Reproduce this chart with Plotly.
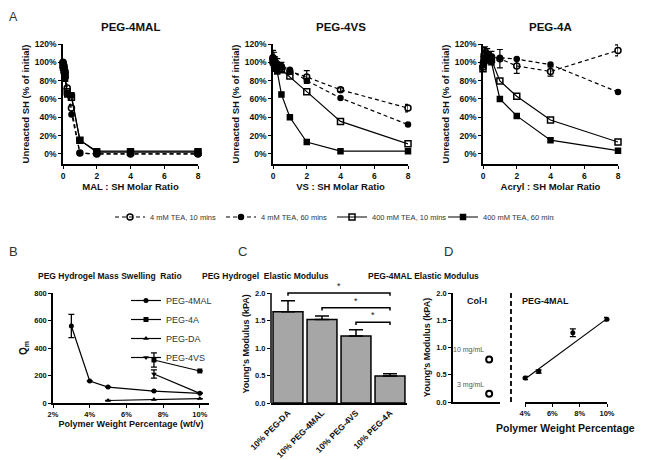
import plotly.graph_objects as go

# the page has an 8px body margin, so the figure is drawn 8px in from the window corner
W, H = 637, 452
OFF = 8

# ---------- panel A : unreacted thiol vs molar ratio ----------
ratio = [0, 0.0625, 0.125, 0.25, 0.5, 1, 2, 4, 8]
a_names = ["4 mM TEA, 10 mins", "4 mM TEA, 60 mins", "400 mM TEA, 10 mins", "400 mM TEA, 60 mins"]
a_ticks = [0, 20, 40, 60, 80, 100, 120]
a_ticktext = ["0%", "20%", "40%", "60%", "80%", "100%", "120%"]

mal_4mm_10 = [100, 96, 90, 72, 50, 1, 0, 0, 0]
mal_4mm_60 = [100, 93, 85, 66, 43, 1, 0, 0, 0]
mal_400_10 = [97, 92, 86, 68, 62, 15, 2, 2, 2]
mal_400_60 = [94, 90, 82, 65, 64, 15, 3, 3, 3]

vs_4mm_10 = [105, 103, 100, 98, 95, 90, 84, 70, 50]
vs_4mm_10_err = [8, 8, 6, 6, 5, 3, 7, 2, 4]
vs_4mm_60 = [104, 100, 99, 97, 96, 92, 80, 61, 32]
vs_400_10 = [102, 100, 98, 96, 92, 85, 68, 35.5, 11]
vs_400_60 = [100, 97, 93, 90, 65, 40, 13, 3, 3]

acr_4mm_10 = [95, 108, 110, 107, 106, 104, 96, 90, 113]
acr_4mm_10_err = [5, 8, 7, 8, 6, 10, 8, 5, 6]
acr_4mm_60 = [100, 102, 105, 106, 105, 105, 103.5, 97.5, 67.6]
acr_400_10 = [93, 103, 110, 108, 103, 79.6, 63, 37, 13]
acr_400_60 = [97, 100, 104, 105, 100, 60, 41.5, 15, 3.6]

a_titles = ["PEG-4MAL", "PEG-4VS", "PEG-4A"]
a_xtitles = ["MAL : SH Molar Ratio", "VS : SH Molar Ratio", "Acryl : SH Molar Ratio"]

# ---------- panel B : mass swelling ratio ----------
b_names = ["PEG-4MAL", "PEG-4A", "PEG-DA", "PEG-4VS"]
b_x = [[3, 4, 5, 7.5, 10], [7.5, 10], [5, 7.5, 10], [7.5, 10]]
b_y = [[560, 160, 116, 87, 70], [313, 233], [18, 25, 32], [211, 70]]
b_err = [[85, 0, 0, 0, 0], [52, 0], [0, 0, 0], [30, 0]]

# ---------- panel C : elastic modulus bars ----------
c_cats = ["10% PEG-DA", "10% PEG-4MAL", "10% PEG-4VS", "10% PEG-4A"]
c_vals = [1.66, 1.52, 1.22, 0.49]
c_err = [0.20, 0.06, 0.11, 0.04]
sig_from = [0, 1, 2]
sig_to = [3, 3, 3]
sig_y = [2.0, 1.73, 1.47]

# ---------- panel D : PEG-4MAL modulus vs Col-I ----------
col_labels = ["10 mg/mL", "3 mg/mL"]
col_mod = [0.78, 0.15]
mal_pct = [4, 5, 7.5, 10]
mal_mod = [0.44, 0.56, 1.27, 1.52]
mal_err = [0.03, 0.03, 0.07, 0.03]
fit_pct = [4, 10]
fit_mod = [0.42, 1.53]

FONT = "Liberation Sans, Arial, sans-serif"
INK = "#111"


def px_x(p):
    return (p - OFF) / W


def px_y(p):
    return 1 - (p - OFF) / H


def axis_style(**kw):
    d = dict(showline=True, linecolor="black", linewidth=1.5, ticks="outside",
             ticklen=3, tickwidth=1.3, tickcolor="black", showgrid=False,
             zeroline=False, automargin=False,
             tickfont=dict(size=8.5, color=INK, weight="bold"))
    d.update(kw)
    return d


fig = go.Figure()

# panel A traces
a_sets = [
    [mal_4mm_10, mal_4mm_60, mal_400_10, mal_400_60],
    [vs_4mm_10, vs_4mm_60, vs_400_10, vs_400_60],
    [acr_4mm_10, acr_4mm_60, acr_400_10, acr_400_60],
]
a_errs = [None, vs_4mm_10_err, acr_4mm_10_err]
symbols = ["circle-open", "circle", "square-open", "square"]
msizes = [6, 5, 6, 5]
dashes = ["4px,3px", "4px,3px", "solid", "solid"]
for k, sets in enumerate(a_sets):
    xa = "x" if k == 0 else "x%d" % (k + 1)
    ya = "y" if k == 0 else "y%d" % (k + 1)
    for j, vals in enumerate(sets):
        err = None
        if j == 0 and a_errs[k] is not None:
            err = dict(type="data", array=a_errs[k], color="black", thickness=1.2, width=3)
        fig.add_trace(go.Scatter(
            x=ratio, y=vals, xaxis=xa, yaxis=ya, mode="lines+markers",
            name=a_names[j], showlegend=(k == 0), legend="legend",
            line=dict(color="black", width=1.2, dash=dashes[j]),
            marker=dict(symbol=symbols[j], size=msizes[j], color="black",
                        line=dict(color="black", width=1.5)),
            error_y=err, cliponaxis=False))

# panel B traces
b_symbols = ["circle", "square", "triangle-up", "triangle-down"]
for j in range(4):
    fig.add_trace(go.Scatter(
        x=b_x[j], y=b_y[j], xaxis="x4", yaxis="y4", mode="lines+markers",
        name=b_names[j], legend="legend2",
        line=dict(color="black", width=1.2),
        marker=dict(symbol=b_symbols[j], size=5, color="black"),
        error_y=dict(type="data", array=b_err[j], color="black", thickness=1.3, width=3),
        cliponaxis=False))

# panel C bars
fig.add_trace(go.Bar(
    x=c_cats, y=c_vals, xaxis="x5", yaxis="y5", showlegend=False, width=0.88,
    marker=dict(color="#a6a6a6", line=dict(color="black", width=1.5)),
    error_y=dict(type="data", symmetric=False, array=c_err, arrayminus=[0] * 4,
                 color="black", thickness=1.5, width=7)))

# panel D traces
fig.add_trace(go.Scatter(
    x=[1] * len(col_mod), y=col_mod, xaxis="x6", yaxis="y6", mode="markers",
    showlegend=False, cliponaxis=False,
    marker=dict(symbol="circle-open", size=6, color="black", line=dict(width=2, color="black"))))
fig.add_trace(go.Scatter(
    x=fit_pct, y=fit_mod, xaxis="x7", yaxis="y7", mode="lines", showlegend=False,
    line=dict(color="black", width=1.2), cliponaxis=False))
fig.add_trace(go.Scatter(
    x=mal_pct, y=mal_mod, xaxis="x7", yaxis="y7", mode="markers", showlegend=False,
    cliponaxis=False, marker=dict(symbol="circle", size=5, color="black"),
    error_y=dict(type="data", array=mal_err, color="black", thickness=1.3, width=3)))

# ---------- axes ----------
a_dom = [[63, 198], [273, 408], [483, 618]]
lay = {}
for k in range(3):
    xn = "xaxis" if k == 0 else "xaxis%d" % (k + 1)
    yn = "yaxis" if k == 0 else "yaxis%d" % (k + 1)
    xa = "x" if k == 0 else "x%d" % (k + 1)
    ya = "y" if k == 0 else "y%d" % (k + 1)
    lay[xn] = axis_style(domain=[px_x(a_dom[k][0]), px_x(a_dom[k][1])], range=[0, 8],
                         tickvals=[0, 2, 4, 6, 8], anchor=ya,
                         title=dict(text=a_xtitles[k], standoff=2,
                                    font=dict(size=9.5, color=INK, weight="bold")))
    lay[yn] = axis_style(domain=[px_y(164), px_y(44)], range=[-11, 120],
                         tickvals=a_ticks, ticktext=a_ticktext, anchor=xa,
                         title=dict(text="Unreacted SH (% of initial)", standoff=3,
                                    font=dict(size=9.5, color=INK, weight="bold")))

lay["xaxis4"] = axis_style(domain=[px_x(53), px_x(209)], range=[2, 10.5], anchor="y4",
                           tickvals=[2, 4, 6, 8, 10], ticktext=["2%", "4%", "6%", "8%", "10%"],
                           tickfont=dict(size=7.5, color=INK, weight="bold"),
                           title=dict(text="Polymer Weight Percentage (wt/v)", standoff=2,
                                      font=dict(size=9, color=INK, weight="bold")))
lay["yaxis4"] = axis_style(domain=[px_y(403), px_y(293)], range=[0, 800], anchor="x4",
                           tickvals=[0, 200, 400, 600, 800],
                           tickfont=dict(size=7.5, color=INK, weight="bold"),
                           title=dict(text="Q<sub>m</sub>", standoff=5,
                                      font=dict(size=10, color=INK, weight="bold")))

lay["xaxis5"] = axis_style(domain=[px_x(271), px_x(407)], range=[-0.5, 3.5], anchor="y5",
                           ticks="", tickangle=-45,
                           tickfont=dict(size=8.5, color=INK, weight="bold"))
lay["yaxis5"] = axis_style(domain=[px_y(403), px_y(284.75)], range=[0, 2.15], anchor="x5",
                           showline=False, tickvals=[0, 0.5, 1.0, 1.5, 2.0],
                           tickformat=".1f",
                           tickfont=dict(size=7.5, color=INK, weight="bold"),
                           title=dict(text="Young's Modulus (kPA)", standoff=3,
                                      font=dict(size=9, color=INK, weight="bold")))

lay["xaxis6"] = axis_style(domain=[px_x(453), px_x(500)], range=[0, 1.3], anchor="y6",
                           ticks="", showticklabels=False)
lay["yaxis6"] = axis_style(domain=[px_y(402), px_y(293)], range=[0, 2], anchor="x6",
                           tickvals=[0, 0.5, 1.0, 1.5, 2.0], tickformat=".1f",
                           tickfont=dict(size=7.5, color=INK, weight="bold"),
                           title=dict(text="Young's Modulus (kPA)", standoff=4,
                                      font=dict(size=9, color=INK, weight="bold")))
lay["xaxis7"] = axis_style(domain=[px_x(525), px_x(607)], range=[4, 10], anchor="y7",
                           tickvals=[4, 6, 8, 10], ticktext=["4%", "6%", "8%", "10%"],
                           tickfont=dict(size=7.5, color=INK, weight="bold"))
lay["yaxis7"] = dict(domain=[px_y(402), px_y(293)], range=[0, 2], anchor="x7",
                     visible=False, showgrid=False, zeroline=False, automargin=False)

fig.update_layout(**lay)

# ---------- shapes ----------
shapes = []
# y axis line of panel C stops at 2.0
shapes.append(dict(type="line", xref="x5 domain", yref="y5", x0=0, x1=0, y0=0, y1=2.0,
                   line=dict(color="black", width=1.5)))
# significance brackets
for f, t, yv in zip(sig_from, sig_to, sig_y):
    shapes.append(dict(type="path", xref="x5", yref="y5",
                       path="M %g,%g L %g,%g L %g,%g L %g,%g" % (f, yv - 0.05, f, yv, t, yv, t, yv - 0.05),
                       line=dict(color="black", width=1.5)))
# dashed divider in panel D
shapes.append(dict(type="line", xref="paper", yref="y6 domain", x0=px_x(511), x1=px_x(511),
                   y0=0, y1=1, line=dict(color="black", width=1.8, dash="5px,3px")))

# ---------- annotations ----------
ann = []
# "A" sits at the very top edge: anchor its box to the top of the figure so it is not cut
ann.append(dict(text="A", x=px_x(14), y=1, xref="paper", yref="paper",
                xanchor="center", yanchor="top",
                showarrow=False, font=dict(size=12.5, color="#333")))
for lab, lx, ly in [("B", 13, 252), ("C", 243, 252), ("D", 448, 252)]:
    ann.append(dict(text=lab, x=px_x(lx), y=px_y(ly), xref="paper", yref="paper",
                    xanchor="center", yanchor="middle",
                    showarrow=False, font=dict(size=13, color="#333")))
for k in range(3):
    xd = "x domain" if k == 0 else "x%d domain" % (k + 1)
    ann.append(dict(text="<b>%s</b>" % a_titles[k], xref=xd, x=0.5, yref="paper", y=px_y(27),
                    xanchor="center", yanchor="middle",
                    showarrow=False, font=dict(size=11.5, color=INK)))
for txt, cx in [("PEG Hydrogel Mass Swelling  Ratio", 110), ("PEG Hydrogel  Elastic Modulus", 265),
                ("PEG-4MAL Elastic Modulus", 423)]:
    ann.append(dict(text="<b>%s</b>" % txt, x=px_x(cx), y=px_y(276), xref="paper", yref="paper",
                    xanchor="center", yanchor="middle",
                    showarrow=False, font=dict(size=8.5, color=INK)))
for f, t, yv in zip(sig_from, sig_to, sig_y):
    ann.append(dict(text="*", x=(f + t) / 2, y=yv, xref="x5", yref="y5",
                    xanchor="center", yanchor="bottom",
                    showarrow=False, font=dict(size=9, color=INK)))
ann.append(dict(text="<b>Col-I</b>", xref="x6 domain", x=0.5, yref="y6 domain", y=0.93,
                xanchor="center", yanchor="middle",
                showarrow=False, font=dict(size=9, color=INK)))
ann.append(dict(text="<b>PEG-4MAL</b>", xref="x7 domain", x=0.25, yref="y7 domain", y=0.93,
                xanchor="center", yanchor="middle",
                showarrow=False, font=dict(size=9, color=INK)))
for lab, v in zip(col_labels, col_mod):
    ann.append(dict(text=lab, x=1, y=v + 0.17, xref="x6", yref="y6", xanchor="right",
                    yanchor="middle", xshift=-3, showarrow=False, font=dict(size=7, color="#555")))
ann.append(dict(text="<b>Polymer Weight Percentage</b>", x=px_x(565), y=px_y(428),
                xref="paper", yref="paper", xanchor="center", yanchor="middle",
                showarrow=False, font=dict(size=10.5, color=INK)))

fig.update_layout(
    width=W, height=H, margin=dict(l=0, r=0, t=0, b=0, autoexpand=False),
    plot_bgcolor="white", paper_bgcolor="white",
    font=dict(family=FONT, color=INK),
    shapes=shapes, annotations=ann, bargap=0.12,
    legend=dict(orientation="h", x=px_x(332), xanchor="center", y=px_y(217), yanchor="middle",
                font=dict(size=7.5, color="#333"), itemwidth=30, entrywidth=66,
                bgcolor="rgba(0,0,0,0)"),
    legend2=dict(x=px_x(126), xanchor="left", y=px_y(286), yanchor="top",
                 font=dict(size=9, color="#333"), itemwidth=30, tracegroupgap=0,
                 bgcolor="rgba(0,0,0,0)"),
)

fig.write_html("out.html")
